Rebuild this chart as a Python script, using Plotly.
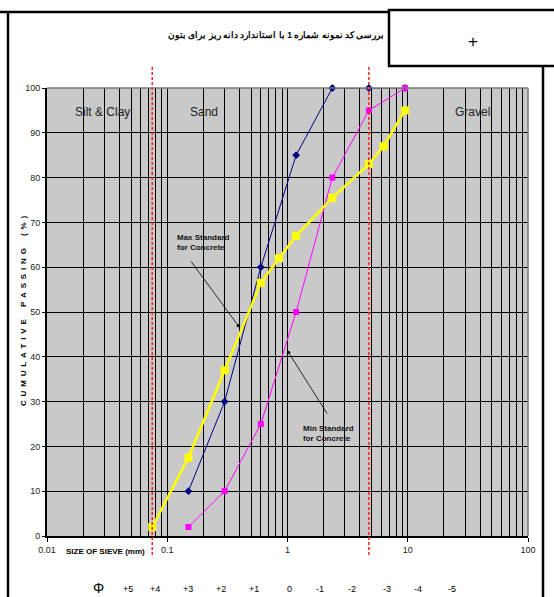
import math
import plotly.graph_objects as go

# ---------------- data ----------------
sample_sizes = [0.15, 0.3, 0.6, 1.18, 2.36, 4.75, 9.5]
sample_pass = [10, 30, 60, 85, 100, 100, 100]
min_sizes = [0.15, 0.3, 0.6, 1.18, 2.36, 4.75, 9.5]
min_pass = [2, 10, 25, 50, 80, 95, 100]
max_sizes = [0.075, 0.15, 0.3, 0.6, 0.85, 1.18, 2.36, 4.75, 6.3, 9.5]
max_pass = [2, 17.5, 37, 56.5, 62, 67, 75.5, 83, 87, 95]
boundary_sizes = [0.075, 4.75]
x_tick_vals = [0.01, 0.1, 1, 10, 100]
x_tick_text = ["0.01", "0.1", "1", "10", "100"]
y_tick_vals = list(range(0, 101, 10))
phi_labels = ["+5", "+4", "+3", "+2", "+1", "0", "-1", "-2", "-3", "-4", "-5"]
zone_labels = ["Silt & Clay", "Sand", "Gravel"]
title_text = "بررسی کد نمونه شماره 1 با استاندارد دانه ریز برای بتون"
y_title = "CUMULATIVE PASSING (%)"

# ---------------- geometry ----------------
W, H = 554, 597
L, R, T, B = 47, 26, 88, 61
PW, PH = W - L - R, H - T - B


def px(x):
    return (x - L) / PW


def py(y):
    return (H - B - y) / PH


FONT = "Liberation Sans, Arial, sans-serif"
NB = "\u00a0"
TH = "\u2009"

minor_vals = [m * 10 ** e for e in range(-2, 2) for m in range(2, 10)]

fig = go.Figure()
fig.add_trace(go.Scatter(x=sample_sizes, y=sample_pass, mode="lines+markers",
                         line=dict(color="#000080", width=1),
                         marker=dict(symbol="diamond", size=6, color="#000080"),
                         cliponaxis=False, showlegend=False))
fig.add_trace(go.Scatter(x=min_sizes, y=min_pass, mode="lines+markers",
                         line=dict(color="#FF00FF", width=1),
                         marker=dict(symbol="square", size=6, color="#FF00FF"),
                         cliponaxis=False, showlegend=False))
fig.add_trace(go.Scatter(x=max_sizes, y=max_pass, mode="lines+markers",
                         line=dict(color="#FFFF00", width=2.5),
                         marker=dict(symbol="square", size=8, color="#FFFF00"),
                         cliponaxis=False, showlegend=False))

shapes = []
for b in boundary_sizes:
    shapes.append(dict(type="line", xref="x", yref="paper", x0=b, x1=b,
                       y0=py(555), y1=py(66),
                       line=dict(color="#FF2020", width=1.5, dash="3px,2px")))
# frame
frame = dict(color="black", width=2.5)
shapes += [
    dict(type="line", xref="paper", yref="paper", x0=px(0), x1=px(389), y0=py(12), y1=py(12), line=frame),
    dict(type="line", xref="paper", yref="paper", x0=px(8), x1=px(8), y0=py(12), y1=py(600), line=frame),
    dict(type="rect", xref="paper", yref="paper", x0=px(389), x1=px(560), y0=py(10), y1=py(66), line=frame),
    dict(type="line", xref="paper", yref="paper", x0=px(543), x1=px(543), y0=py(66), y1=py(600), line=frame),
    # plot border top / right
    dict(type="line", xref="paper", yref="paper", x0=0, x1=1, y0=1, y1=1, line=dict(color="#7a7a7a", width=1.5)),
    dict(type="line", xref="paper", yref="paper", x0=1, x1=1, y0=0, y1=1, line=dict(color="#7a7a7a", width=1.5)),
]

ann = []


def text(t, x, y, size, **kw):
    d = dict(text=t, xref="paper", yref="paper", x=px(x), y=py(y), showarrow=False,
             xanchor="center", yanchor="middle",
             font=dict(size=size, family=FONT, color=kw.pop("color", "black")))
    d.update(kw)
    ann.append(d)


text("<b>" + title_text + "</b>", 276, 35, 8.5)
text("+", 473, 41, 17)
zone_pos = [(102, 112), (204, 112), (472, 112)]
for t, (zx, zy) in zip(zone_labels, zone_pos):
    text(t, zx, zy, 12, color="#222")
# labels with arrows
text("<b>Max Standard<br>for Concrete</b>", 175, 242, 8, xanchor="left", align="left", color="#111")
ann.append(dict(text="", xref="paper", yref="paper", x=px(240), y=py(328),
                ax=190 - 240, ay=260 - 328, axref="pixel", ayref="pixel",
                showarrow=True, arrowhead=2, arrowsize=1, arrowwidth=0.8, arrowcolor="black"))
text("<b>Min Standard<br>for Concrete</b>", 301, 433, 8, xanchor="left", align="left", color="#111")
ann.append(dict(text="", xref="paper", yref="paper", x=px(287), y=py(350),
                ax=328 - 287, ay=415 - 350, axref="pixel", ayref="pixel",
                showarrow=True, arrowhead=2, arrowsize=1, arrowwidth=0.8, arrowcolor="black"))
# axis titles
spaced = (NB + TH).join(ch if ch != " " else NB * 2 for ch in y_title)
text("<b>" + spaced + "</b>", 23, 311, 8, textangle=-90)
text("<b>SIZE OF SIEVE (mm)</b>", 105, 551, 8)
text("Φ", 98, 588, 14)
phi_px = [128, 155, 188, 221, 254, 289, 320, 352, 387, 418, 452]
for t, xx in zip(phi_labels, phi_px):
    text(t, xx, 589, 9)

fig.update_layout(
    width=W, height=H,
    margin=dict(l=L, r=R, t=T, b=B, pad=0),
    paper_bgcolor="white", plot_bgcolor="#c9c9c9",
    shapes=shapes, annotations=ann,
    xaxis=dict(type="log", range=[-2, 2], tickvals=x_tick_vals, ticktext=x_tick_text,
               showgrid=True, gridcolor="black", gridwidth=1,
               minor=dict(tickvals=minor_vals, showgrid=True, gridcolor="black", gridwidth=1, ticks=""),
               ticks="outside", ticklen=4, tickcolor="black",
               showline=True, linecolor="black", linewidth=2, zeroline=False,
               tickfont=dict(size=9, family=FONT, color="#222")),
    yaxis=dict(range=[0, 100], tickvals=y_tick_vals, showgrid=True, gridcolor="black", gridwidth=1,
               ticks="outside", ticklen=3, tickcolor="black",
               showline=True, linecolor="black", linewidth=2, zeroline=False,
               tickfont=dict(size=9, family=FONT, color="#222")),
)

fig.write_html("out.html", config={"displayModeBar": False},
               post_script="document.body.style.margin='0';")
